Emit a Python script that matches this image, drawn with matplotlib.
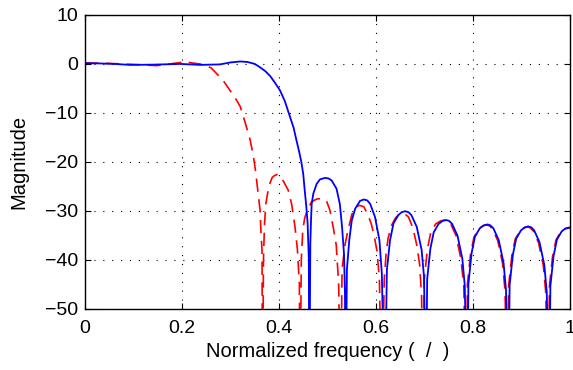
import matplotlib
matplotlib.use("Agg")
import matplotlib.pyplot as plt

plt.rcParams["font.family"] = ["Liberation Sans", "DejaVu Sans"]

# blue, solid: passband + main lobe fall, then stopband lobes (-70 marks a null below the axis)
blue_x = [0.0, 0.03, 0.06, 0.093, 0.14, 0.196, 0.237, 0.278, 0.30, 0.32, 0.335, 0.35,
          0.361, 0.372, 0.382, 0.392, 0.402, 0.412, 0.423, 0.430, 0.436, 0.441, 0.446, 0.450,
          0.453, 0.456, 0.459, 0.4615, 0.4625,
          0.4646, 0.466, 0.4674, 0.4708, 0.4777, 0.4845, 0.4945, 0.5020, 0.5084, 0.5186, 0.5254,
          0.530, 0.534, 0.536, 0.5375,
          0.540, 0.545, 0.550, 0.557, 0.567, 0.575, 0.582, 0.588, 0.598, 0.607, 0.612, 0.618,
          0.6225, 0.629, 0.636, 0.646, 0.653, 0.660, 0.667, 0.673, 0.684, 0.694, 0.699, 0.703,
          0.7055, 0.712, 0.719, 0.729, 0.737, 0.745, 0.751, 0.757, 0.768, 0.778, 0.783, 0.788,
          0.7905, 0.797, 0.804, 0.814, 0.822, 0.830, 0.836, 0.842, 0.853, 0.863, 0.868, 0.873,
          0.8755, 0.882, 0.889, 0.899, 0.907, 0.914, 0.920, 0.926, 0.937, 0.947, 0.952, 0.957,
          0.9595, 0.966, 0.973, 0.983, 0.991, 1.0]
blue_y = [0.15, 0.1, 0.0, -0.2, -0.15, 0.0, -0.2, -0.1, 0.3, 0.5, 0.4, 0.0,
          -0.7, -1.5, -2.5, -3.9, -5.4, -7.6, -10.9, -13.0, -15.6, -17.7, -20.0, -22.5,
          -25.8, -28.8, -32.5, -40.0, -70,
          -36.7, -32.0, -28.6, -26.5, -24.5, -23.6, -23.3, -23.4, -23.8, -25.5, -28.6,
          -33.3, -38.8, -46.9, -70,
          -42.0, -35.9, -32.0, -29.6, -28.0, -27.7, -27.9, -28.6, -31.3, -36.0, -42.8, -70,
          -42.0, -36.0, -32.6, -30.9, -30.3, -30.1, -30.3, -30.9, -33.3, -38.0, -43.5, -70,
          -44.0, -37.8, -34.4, -32.7, -32.1, -31.9, -32.1, -32.7, -35.1, -39.8, -45.3, -70,
          -45.0, -38.7, -35.3, -33.6, -33.0, -32.8, -33.0, -33.6, -36.0, -40.7, -46.2, -70,
          -45.2, -39.1, -35.7, -34.0, -33.4, -33.2, -33.4, -34.0, -36.4, -41.1, -46.6, -70,
          -45.4, -39.3, -35.9, -34.2, -33.6, -33.4]

# red, dashed
red_x = [0.0, 0.05, 0.1, 0.148, 0.196, 0.205, 0.22, 0.237, 0.26, 0.285, 0.31, 0.32,
         0.330, 0.340, 0.347, 0.352, 0.357, 0.361, 0.363, 0.365, 0.366,
         0.368, 0.370, 0.373, 0.379, 0.386, 0.391, 0.397, 0.402, 0.406, 0.419, 0.426, 0.433,
         0.438, 0.442, 0.4435,
         0.446, 0.449, 0.453, 0.458, 0.467, 0.478, 0.489, 0.498, 0.505, 0.512, 0.518, 0.523, 0.527,
         0.530, 0.536, 0.541, 0.550, 0.557, 0.566, 0.575, 0.583, 0.590, 0.596, 0.602, 0.607, 0.612,
         0.617, 0.621, 0.625, 0.632, 0.640, 0.647, 0.654, 0.661, 0.667, 0.676, 0.684, 0.690,
         0.694, 0.697,
         0.6995, 0.706, 0.713, 0.723, 0.733, 0.741, 0.748, 0.754, 0.765, 0.775, 0.781, 0.786,
         0.7885, 0.795, 0.802, 0.812, 0.820, 0.828, 0.834, 0.840, 0.851, 0.861, 0.866, 0.871,
         0.8735, 0.880, 0.887, 0.897, 0.905, 0.912, 0.918, 0.924, 0.935, 0.945, 0.950, 0.955,
         0.9575, 0.964, 0.971, 0.981, 0.990, 1.0]
red_y = [0.2, 0.1, -0.1, -0.35, 0.27, 0.5, 0.2, 0.0, -0.8, -3.4, -7.0, -8.7,
         -11.9, -15.3, -18.7, -22.1, -26.5, -29.9, -34.7, -38.0, -70,
         -40.0, -33.0, -28.5, -25.0, -23.2, -22.8, -22.6, -22.9, -23.4, -25.8, -28.6, -33.3,
         -38.0, -45.0, -70,
         -40.0, -34.0, -31.5, -30.0, -28.2, -27.6, -27.5, -28.0, -29.9, -33.5, -37.0, -45.0, -70,
         -42.0, -37.0, -34.6, -30.8, -29.3, -28.9, -29.2, -30.8, -32.6, -35.0, -38.2, -44.0, -70,
         -44.0, -38.5, -35.6, -33.0, -31.5, -30.8, -30.5, -30.8, -31.3, -33.5, -37.0, -41.0,
         -47.6, -70,
         -44.0, -37.8, -34.4, -32.7, -32.1, -31.9, -32.1, -32.7, -35.1, -39.8, -45.3, -70,
         -45.0, -38.8, -35.4, -33.7, -33.1, -32.9, -33.1, -33.7, -36.1, -40.8, -46.3, -70,
         -45.3, -39.2, -35.8, -34.1, -33.5, -33.3, -33.5, -34.1, -36.5, -41.2, -46.7, -70,
         -45.5, -39.4, -36.0, -34.3, -33.7, -33.5]

x_ticks = [0, 0.2, 0.4, 0.6, 0.8, 1]
x_labels = ["0", "0.2", "0.4", "0.6", "0.8", "1"]
y_ticks = [-50, -40, -30, -20, -10, 0, 10]

fig = plt.figure(figsize=(5.73, 3.70), dpi=100)
ax = fig.add_axes([0.1483, 0.166, 0.8465, 0.7935])

ax.plot(red_x, red_y, color="#ff0000", lw=1.2, dashes=(8, 4.5))
ax.plot(blue_x, blue_y, color="#0000ff", lw=1.3)

ax.set_xlim(0, 1)
ax.set_ylim(-50, 10)
ax.set_xticks(x_ticks)
ax.set_xticklabels(x_labels)
ax.set_yticks(y_ticks)
ax.tick_params(direction="in", top=True, right=True, length=4, width=0.8,
               labelsize=14)
ax.tick_params(axis="y", pad=5)
ax.tick_params(axis="x", pad=8)
ax.grid(True, color="black", lw=0.8, linestyle=(0, (1, 7)))
for s in ax.spines.values():
    s.set_linewidth(1.0)

ax.set_xlabel("Normalized frequency (  /  )", fontsize=14.5, labelpad=4)
ax.set_ylabel("Magnitude", fontsize=14.5, labelpad=12)

fig.savefig("out.png", dpi=100)
